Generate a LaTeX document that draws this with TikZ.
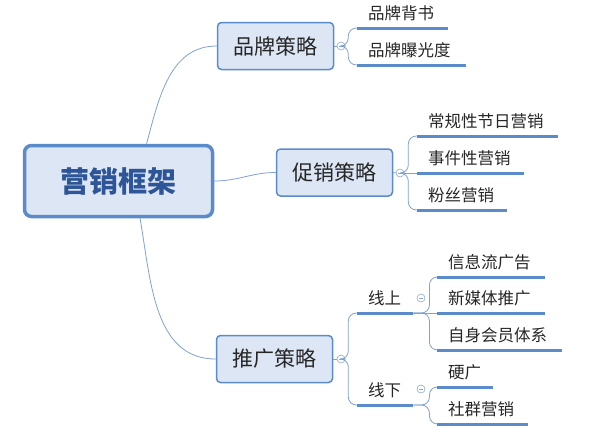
\documentclass[tikz,border=0pt]{standalone}
\usepackage{fontspec}
\setmainfont{Noto Sans CJK SC}
\definecolor{lineblue}{HTML}{5B8BCB}
\definecolor{connblue}{HTML}{7FA2D2}
\definecolor{boxfill}{HTML}{DCE6F4}
\definecolor{rootblue}{HTML}{2E5597}
\definecolor{circblue}{HTML}{8FA9CF}
\tikzstyle{root}=[
	draw=lineblue,
	line width=3.5pt,
	fill=boxfill,
	rounded corners=7pt,
	minimum width=188pt,
	minimum height=71pt,
	text=rootblue,
	font=\fontsize{29}{32}\selectfont\bfseries
]
\tikzstyle{topic}=[
	draw=lineblue,
	line width=1.5pt,
	fill=boxfill,
	rounded corners=4pt,
	minimum width=116pt,
	minimum height=47pt,
	text=black!85,
	font=\fontsize{21}{24}\selectfont
]
\tikzstyle{leaf}=[anchor=south west, inner xsep=11pt, inner ysep=8pt, text depth=0pt, align=left, text=black!85, font=\fontsize{16.5}{18}\selectfont]
\tikzstyle{uline} = [draw=lineblue, line width=3pt]
\tikzstyle{conn} = [draw=connblue, line width=0.8pt]
\tikzstyle{fork} = [draw=connblue, line width=0.8pt, rounded corners=8pt]
\tikzstyle{minus}=[
	draw=circblue,
	shape=circle,
	fill=white,
	minimum size=8pt,
	inner sep=0pt,
	line width=0.6pt,
	path picture={\draw[circblue, line width=0.6pt] ([xshift=2pt]path picture bounding box.west) -- ([xshift=-2pt]path picture bounding box.east);}
]

\begin{document}
\begin{tikzpicture}[x=1pt, y=-1pt]
			\useasboundingbox (0,0) rectangle (607,437);

			% root and main topics
			\node[root]	(R)	at (118.5,181) {营销框架};
			\node[topic]	(T1) at (275.5,46) {品牌策略};
			\node[topic]	(T2) at (334.5,172.5) {促销策略};
			\node[topic]	(T3) at (274.5,359) {推广策略};

			\node[minus]	(M1) at (341,46) {};
			\node[minus]	(M2) at (400,173) {};
			\node[minus]	(M3) at (341,359) {};
			\node[minus]	(M4) at (421,298) {};
			\node[minus]	(M5) at (421,389) {};

			% leaves
			\node[leaf, text width=69pt]	(B1) at (357,28) {品牌背书};
			\node[leaf, text width=87pt]	(B2) at (357,65) {品牌曝光度};
			\node[leaf, text width=119pt]	(C1) at (417,136) {常规性节日营销};
			\node[leaf, text width=85pt]	(C2) at (417,173) {事件性营销};
			\node[leaf, text width=68pt]	(C3) at (417,210) {粉丝营销};
			\node[leaf, text width=34pt]	(P1) at (357,313) {线上};
			\node[leaf, text width=34pt]	(P2) at (357,405) {线下};
			\node[leaf, text width=86pt]	(D1) at (437,277) {信息流广告};
			\node[leaf, text width=86pt]	(D2) at (437,313) {新媒体推广};
			\node[leaf, text width=103pt]	(D3) at (437,350) {自身会员体系};
			\node[leaf, text width=34pt]	(E1) at (437,387) {硬广};
			\node[leaf, text width=69pt]	(E2) at (437,424) {社群营销};

			% connectors
			\path[conn]
				(R.53) edge[out=75, in=180] (T1.west)
				(R.east) edge[out=0, in=180] (T2.west)
				(R.-60) edge[out=-80, in=180] (T3.west)
				(T1.east) edge (M1.west)
				(T2.east) edge (M2.west)
				(T3.east) edge (M3.west);

			\draw[fork] (M1.east) -- ++(3,0) |- (B1.south west);
			\draw[fork] (M1.east) -- ++(3,0) |- (B2.south west);
			\draw[fork] (M2.east) -- ++(4,0) |- (C1.south west);
			\draw[fork] (M2.east) -- (C2.south west);
			\draw[fork] (M2.east) -- ++(4,0) |- (C3.south west);
			\draw[fork] (M3.east) -- ++(3,0) |- (P1.south west);
			\draw[fork] (M3.east) -- ++(3,0) |- (P2.south west);
			\draw[fork] (P1.south east) -- ++(16,0) |- (D1.south west);
			\draw[fork] (P1.south east) -- (D2.south west);
			\draw[fork] (P1.south east) -- ++(16,0) |- (D3.south west);
			\draw[fork] (P2.south east) -- ++(16,0) |- (E1.south west);
			\draw[fork] (P2.south east) -- ++(16,0) |- (E2.south west);

			% underlines
			\foreach \n in {B1,B2,C1,C2,C3,P1,P2,D1,D2,D3,E1,E2}
				\draw[uline] (\n.south west) -- (\n.south east);

\end{tikzpicture}
\end{document}
